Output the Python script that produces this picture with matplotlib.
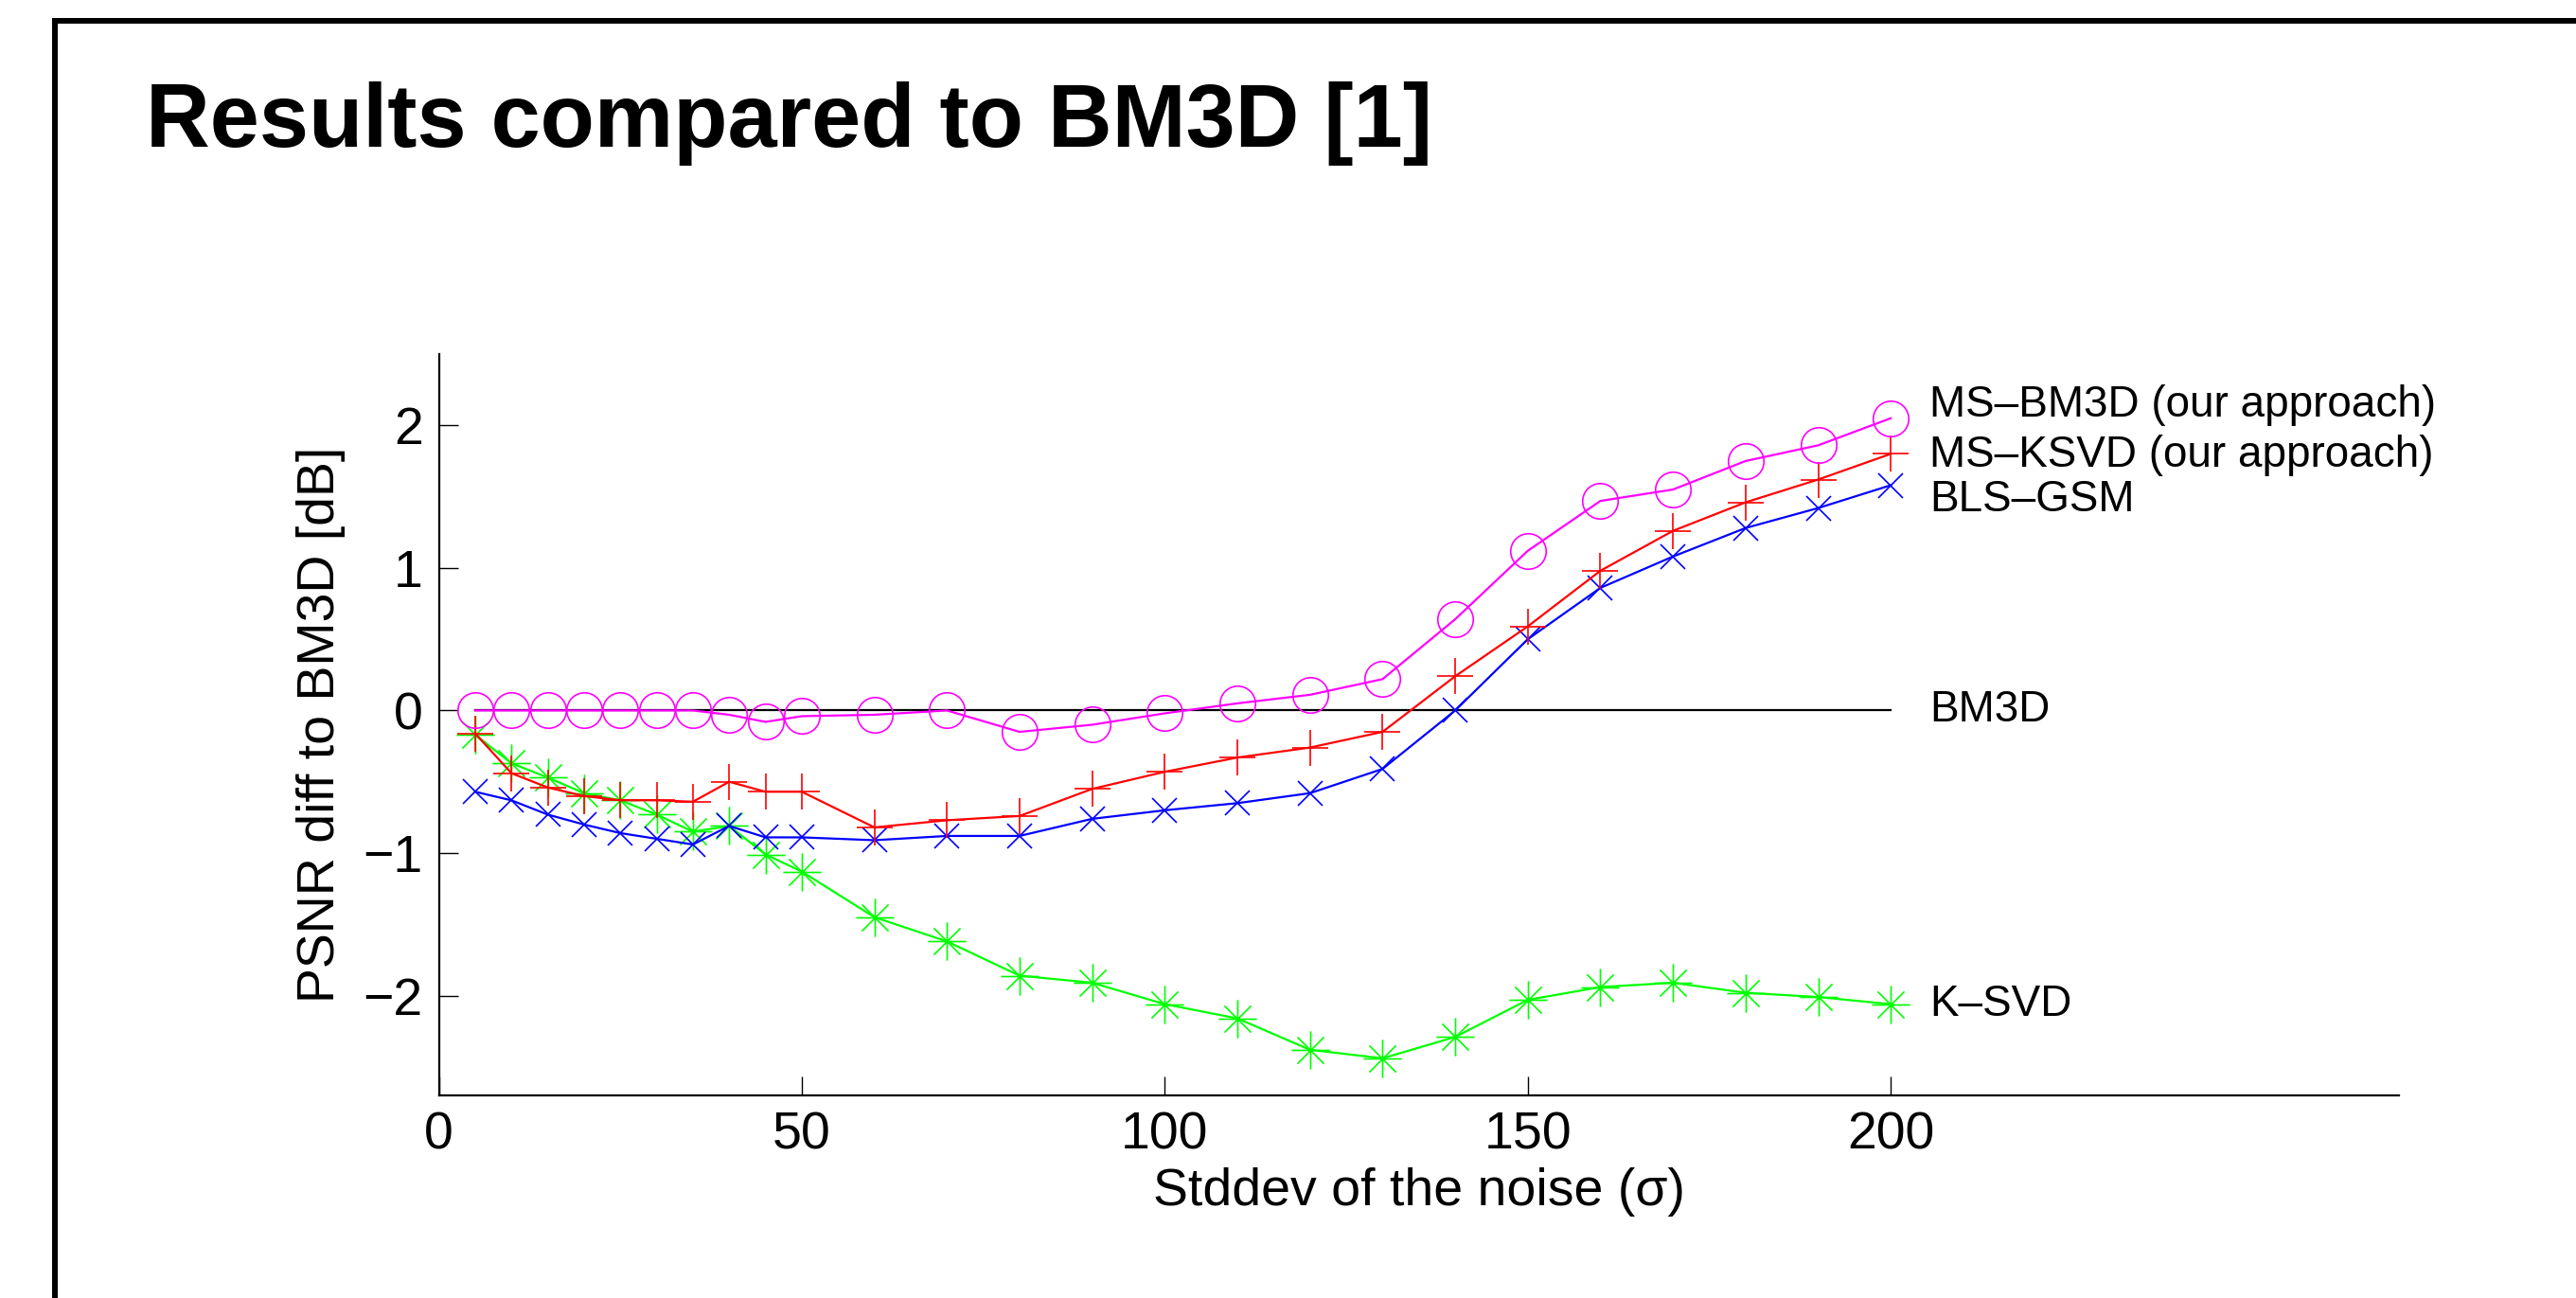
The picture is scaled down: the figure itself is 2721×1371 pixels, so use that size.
import numpy as np
import matplotlib.pyplot as plt
from matplotlib.path import Path
from matplotlib.lines import Line2D

# noise levels (sigma)
sigma = [5, 10, 15, 20, 25, 30, 35, 40, 45, 50, 60, 70, 80, 90, 100,
         110, 120, 130, 140, 150, 160, 170, 180, 190, 200]

# PSNR difference to BM3D [dB]
ms_bm3d = [0.0, 0.0, 0.0, 0.0, 0.0, 0.0, 0.0, -0.03, -0.08, -0.04, -0.03, 0.0, -0.15,
           -0.10, -0.02, 0.05, 0.11, 0.22, 0.64, 1.12, 1.47, 1.55, 1.75, 1.86, 2.05]
ms_ksvd = [-0.16, -0.44, -0.54, -0.60, -0.63, -0.63, -0.64, -0.50, -0.57, -0.57, -0.82,
           -0.77, -0.74, -0.55, -0.43, -0.33, -0.26, -0.15, 0.24, 0.59, 0.98, 1.26,
           1.46, 1.62, 1.80]
bls_gsm = [-0.57, -0.63, -0.73, -0.80, -0.86, -0.90, -0.94, -0.81, -0.89, -0.89, -0.91,
           -0.88, -0.88, -0.76, -0.70, -0.65, -0.58, -0.41, 0.0, 0.50, 0.86, 1.08,
           1.28, 1.42, 1.58]
ksvd = [-0.17, -0.37, -0.47, -0.58, -0.63, -0.73, -0.85, -0.81, -1.01, -1.13, -1.45,
        -1.62, -1.86, -1.91, -2.06, -2.16, -2.38, -2.44, -2.29, -2.03, -1.94, -1.91,
        -1.98, -2.01, -2.06]
bm3d = [0.0] * len(sigma)

# labels drawn right of the curves
labels = ['MS\u2013BM3D (our approach)', 'MS\u2013KSVD (our approach)',
          'BLS\u2013GSM', 'BM3D', 'K\u2013SVD']
label_y = [2.14, 1.79, 1.48, 0.0, -2.06]

# MATLAB style asterisk: + arms and shorter x arms
d = 0.7
star_verts = [(0, -1), (0, 1), (-1, 0), (1, 0),
              (-d, -d), (d, d), (-d, d), (d, -d)]
star_codes = [Path.MOVETO, Path.LINETO] * 4
star = Path(star_verts, star_codes)

W, H = 2721, 1371
fig = plt.figure(figsize=(W / 100, H / 100), dpi=100)
plt.rcParams['font.family'] = ['Liberation Sans', 'DejaVu Sans']

ax = fig.add_axes([463.5 / W, 1 - 1157 / H, 2070.5 / W, 783 / H])

lw = 1.6
mew = 1.2
ax.plot(sigma, bm3d, color='black', lw=lw)
ax.plot(sigma, ksvd, color=(0, 1, 0), lw=lw, marker=star, ms=29, mew=mew)
ax.plot(sigma, bls_gsm, color='blue', lw=lw, marker='x', ms=19, mew=mew)
ax.plot(sigma, ms_ksvd, color='red', lw=lw, marker='+', ms=28, mew=mew)
ax.plot(sigma, ms_bm3d, color='magenta', lw=lw, marker='o', ms=27, mew=mew,
        mfc='none')

for txt, y in zip(labels, label_y):
    ax.text(205.3, y, txt, fontsize=33, va='center', ha='left')

ax.set_xlim(0, 270)
ax.set_ylim(-2.7, 2.5)
ax.set_xticks([0, 50, 100, 150, 200])
ax.set_yticks([-2, -1, 0, 1, 2])
ax.spines['top'].set_visible(False)
ax.spines['right'].set_visible(False)
ax.spines['left'].set_linewidth(1.6)
ax.spines['bottom'].set_linewidth(1.6)
ax.tick_params(direction='in', length=14.5, width=1.0, labelsize=40, pad=12)

ax.set_xlabel('Stddev of the noise (\u03c3)', fontsize=40)
ax.set_ylabel('PSNR diff to BM3D [dB]', fontsize=40)
ax.xaxis.set_label_coords(0.5, -0.097)
ax.yaxis.set_label_coords(-0.0476, 0.5)

# slide title
fig.text(154 / W, 1 - 155 / H, 'Results compared to BM3D [1]', fontsize=67.5,
         fontweight='bold', va='baseline', ha='left')

# slide frame (top and left edges)
fig.add_artist(Line2D([55 / W, 1.0], [1 - 22 / H, 1 - 22 / H], color='black', lw=4.3,
                      transform=fig.transFigure, solid_capstyle='butt'))
fig.add_artist(Line2D([58 / W, 58 / W], [0.0, 1 - 19 / H], color='black', lw=4.3,
                      transform=fig.transFigure, solid_capstyle='butt'))

fig.savefig('out.png', dpi=100)
